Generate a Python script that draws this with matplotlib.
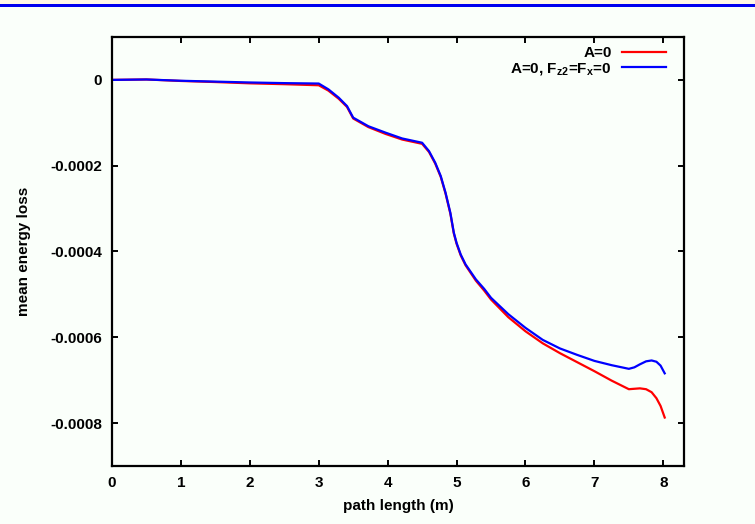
import matplotlib
matplotlib.use('Agg')
import matplotlib.pyplot as plt
from matplotlib.patches import Rectangle
from matplotlib.ticker import FuncFormatter

# data (energy loss in units of 1e-4)
path_len = [0, 0.5, 1, 1.5, 2, 2.5, 3, 3.14, 3.29, 3.41, 3.5, 3.72, 3.97, 4.21,
            4.5, 4.6, 4.69, 4.77, 4.84, 4.91, 4.96, 5.0, 5.06, 5.13, 5.28, 5.4,
            5.5, 5.75, 6, 6.25, 6.5, 6.75, 7, 7.25, 7.5, 7.58, 7.66, 7.75, 7.83,
            7.9, 7.96, 8.02]
loss_a0 = [0, 0.01, -0.025, -0.05, -0.08, -0.10, -0.125, -0.25, -0.44, -0.63,
           -0.90, -1.10, -1.26, -1.39, -1.49, -1.68, -1.95, -2.26, -2.65, -3.12,
           -3.58, -3.82, -4.09, -4.32, -4.68, -4.91, -5.12, -5.53, -5.86, -6.14,
           -6.37, -6.58, -6.79, -7.01, -7.21, -7.20, -7.19, -7.21, -7.28, -7.42,
           -7.60, -7.87]
loss_a0_f0 = [0, 0.01, -0.02, -0.04, -0.06, -0.075, -0.085, -0.22, -0.415, -0.61,
              -0.88, -1.08, -1.23, -1.365, -1.465, -1.66, -1.93, -2.24, -2.63,
              -3.10, -3.56, -3.80, -4.07, -4.30, -4.65, -4.87, -5.08, -5.46, -5.78,
              -6.06, -6.26, -6.41, -6.55, -6.65, -6.735, -6.70, -6.63, -6.56, -6.54,
              -6.57, -6.66, -6.84]
scale = 1e-4

x_ticks = [0, 1, 2, 3, 4, 5, 6, 7, 8]
y_ticks = [-0.0008, -0.0006, -0.0004, -0.0002, 0]

plt.rcParams['font.family'] = ['Liberation Sans Narrow', 'Liberation Sans', 'DejaVu Sans']
plt.rcParams['font.weight'] = 'bold'
plt.rcParams['mathtext.default'] = 'regular'

bg = '#fafffa'
fs = 11
fig = plt.figure(figsize=(7.55, 5.24), dpi=100, facecolor=bg)
ax = fig.add_axes([112/755, 1 - 466/524, (684-112)/755, (466-37)/524])
ax.set_facecolor(bg)

# page header strip
fig.add_artist(Rectangle((0, 1 - 4/524), 1, 4/524, transform=fig.transFigure,
                         color='#fff8e6', lw=0))
fig.add_artist(Rectangle((0, 1 - 7/524), 1, 3/524, transform=fig.transFigure,
                         color='#0000ee', lw=0))

ax.plot(path_len, [v * scale for v in loss_a0], color='#ff0000', lw=1.6,
        label='A=0')
ax.plot(path_len, [v * scale for v in loss_a0_f0], color='#0000ff', lw=1.6,
        label=r'A=0, F$_{z2}$=F$_{x}$=0')

ax.set_xlim(0, 8.3)
ax.set_ylim(-0.0009, 0.0001)
ax.set_xticks(x_ticks)
ax.set_yticks(y_ticks)
ax.yaxis.set_major_formatter(FuncFormatter(lambda v, p: f'{round(v, 6):g}'))

for s in ax.spines.values():
    s.set_linewidth(1.6)
ax.tick_params(direction='in', length=4, width=1.4, labelsize=fs,
               top=True, right=True, pad=7)

ax.set_xlabel('path length (m)', fontsize=fs, fontweight='bold', labelpad=7)
ax.set_ylabel('mean energy loss', fontsize=fs, fontweight='bold', labelpad=14)

ax.legend(loc='upper right', bbox_to_anchor=(0.9685, 0.978), frameon=False,
          borderaxespad=0, borderpad=0,
          markerfirst=False, handlelength=2.9, handletextpad=0.65,
          labelspacing=0.05, fontsize=fs)

fig.savefig('out.png', dpi=100, facecolor=bg)
